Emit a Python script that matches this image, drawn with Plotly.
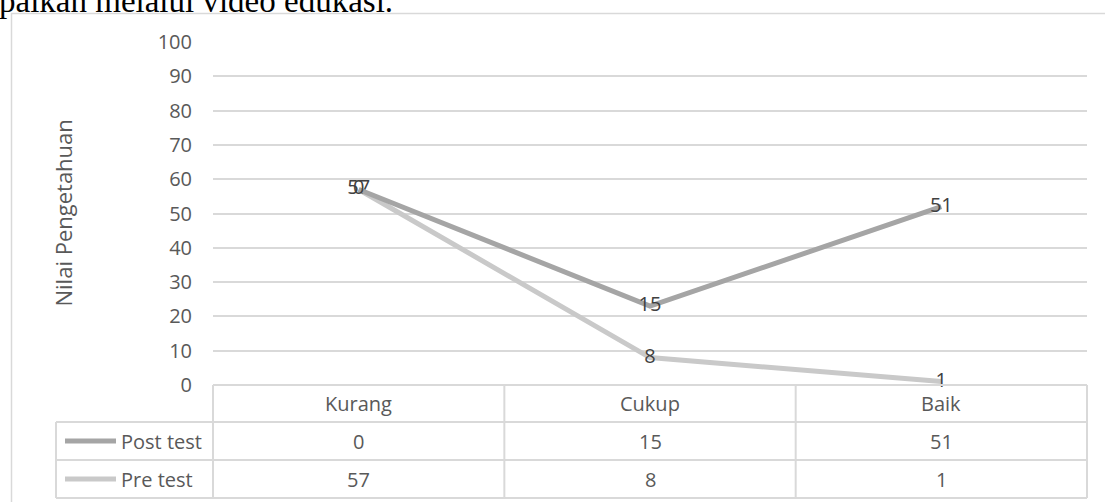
import plotly.graph_objects as go

categories = ["Kurang", "Cukup", "Baik"]
post_test = [0, 15, 51]
pre_test = [57, 8, 1]
series_names = ["Post test", "Pre test"]
y_ticks = [0, 10, 20, 30, 40, 50, 60, 70, 80, 90, 100]

W, H = 1105, 502
ML, MR, MT, MB = 213, 18, 42, 117
PW = W - ML - MR
PH = H - MT - MB

def px_x(px):
    return (px - ML) / PW

def px_y(py):
    return (H - MB - py) / PH

C_POST = "#A5A5A5"
C_PRE = "#C9C9C9"
GRID = "#D9D9D9"
FONT = "Open Sans"
TXT = "#595959"

fig = go.Figure()
fig.add_trace(go.Scatter(
    x=categories, y=pre_test, name="Pre test", stackgroup="s", fill="none",
    mode="lines+text", line=dict(color=C_PRE, width=5),
    text=[str(v) for v in pre_test], textposition="middle center",
    textfont=dict(family=FONT, size=20, color="#404040"), cliponaxis=False,
))
fig.add_trace(go.Scatter(
    x=categories, y=post_test, name="Post test", stackgroup="s", fill="none",
    mode="lines+text", line=dict(color=C_POST, width=5),
    text=[str(v) for v in post_test], textposition="middle center",
    textfont=dict(family=FONT, size=20, color="#404040"), cliponaxis=False,
))

shapes = []
annotations = []
line_style = dict(color=GRID, width=2)

# table rows (pixel y)
y_head_top, y_r1, y_r2, y_bot = 385, 422, 460, 498
x_tab_left = 56

# horizontal lines
shapes.append(dict(type="line", xref="paper", yref="paper", x0=0, x1=1,
                   y0=px_y(y_head_top), y1=px_y(y_head_top), line=line_style))
for yy in (y_r1, y_r2, y_bot):
    shapes.append(dict(type="line", xref="paper", yref="paper", x0=px_x(x_tab_left), x1=1,
                       y0=px_y(yy), y1=px_y(yy), line=line_style))
# vertical lines
shapes.append(dict(type="line", xref="paper", yref="paper", x0=px_x(x_tab_left), x1=px_x(x_tab_left),
                   y0=px_y(y_r1), y1=px_y(y_bot), line=line_style))
for xx in (0, 1):
    shapes.append(dict(type="line", xref="paper", yref="paper", x0=xx, x1=xx,
                       y0=px_y(y_head_top), y1=px_y(y_bot), line=line_style))
for i in range(len(categories) - 1):
    xx = (i + 1) / len(categories)
    shapes.append(dict(type="line", xref="paper", yref="paper", x0=xx, x1=xx,
                       y0=px_y(y_head_top), y1=px_y(y_bot), line=line_style))

# header and values
rows = [(post_test, (y_r1 + y_r2) / 2), (pre_test, (y_r2 + y_bot) / 2)]
for i, c in enumerate(categories):
    annotations.append(dict(x=c, xref="x", y=px_y((y_head_top + y_r1) / 2), yref="paper",
                            text=c, showarrow=False, xanchor="center", yanchor="middle",
                            font=dict(family=FONT, size=20, color=TXT)))
    for vals, yc in rows:
        annotations.append(dict(x=c, xref="x", y=px_y(yc), yref="paper",
                                text=str(vals[i]), showarrow=False, xanchor="center", yanchor="middle",
                                font=dict(family=FONT, size=20, color=TXT)))

# legend keys in table
for (vals, yc), name, col in zip(rows, series_names, [C_POST, C_PRE]):
    shapes.append(dict(type="line", xref="paper", yref="paper", x0=px_x(65), x1=px_x(116),
                       y0=px_y(yc), y1=px_y(yc), line=dict(color=col, width=5)))
    annotations.append(dict(x=px_x(119), xref="paper", y=px_y(yc), yref="paper",
                            text=name, showarrow=False, xanchor="left", yanchor="middle",
                            font=dict(family=FONT, size=20, color=TXT)))

# chart frame
shapes.append(dict(type="line", xref="paper", yref="paper", x0=px_x(11.5), x1=px_x(11.5),
                   y0=px_y(13), y1=px_y(H + 5), line=dict(color=GRID, width=1.5)))
shapes.append(dict(type="line", xref="paper", yref="paper", x0=px_x(11), x1=px_x(W + 5),
                   y0=px_y(13.5), y1=px_y(13.5), line=dict(color=GRID, width=1.5)))

# y title
annotations.append(dict(x=px_x(62), xref="paper", y=0.5, yref="paper", text="Nilai Pengetahuan",
                        textangle=-90, showarrow=False, xanchor="center", yanchor="middle",
                        font=dict(family=FONT, size=22, color=TXT)))

# cropped document text above
annotations.append(dict(x=px_x(-3), xref="paper", y=px_y(21), yref="paper",
                        text="paikan melalui video edukasi.", showarrow=False,
                        xanchor="left", yanchor="bottom",
                        font=dict(family="Liberation Serif", size=33, color="#000000")))

fig.update_layout(
    width=W, height=H,
    margin=dict(l=ML, r=MR, t=MT, b=MB),
    paper_bgcolor="white", plot_bgcolor="white",
    showlegend=False,
    shapes=shapes, annotations=annotations,
    xaxis=dict(range=[-0.5, 2.5], showticklabels=False, showgrid=False, zeroline=False,
               showline=False, ticks=""),
    yaxis=dict(range=[0, 100], tickvals=y_ticks, showgrid=True, gridcolor=GRID, gridwidth=1.5,
               zeroline=False, showline=False, ticks="", ticklabelstandoff=20,
               tickfont=dict(family=FONT, size=20, color=TXT)),
)

fig.write_html("out.html")
